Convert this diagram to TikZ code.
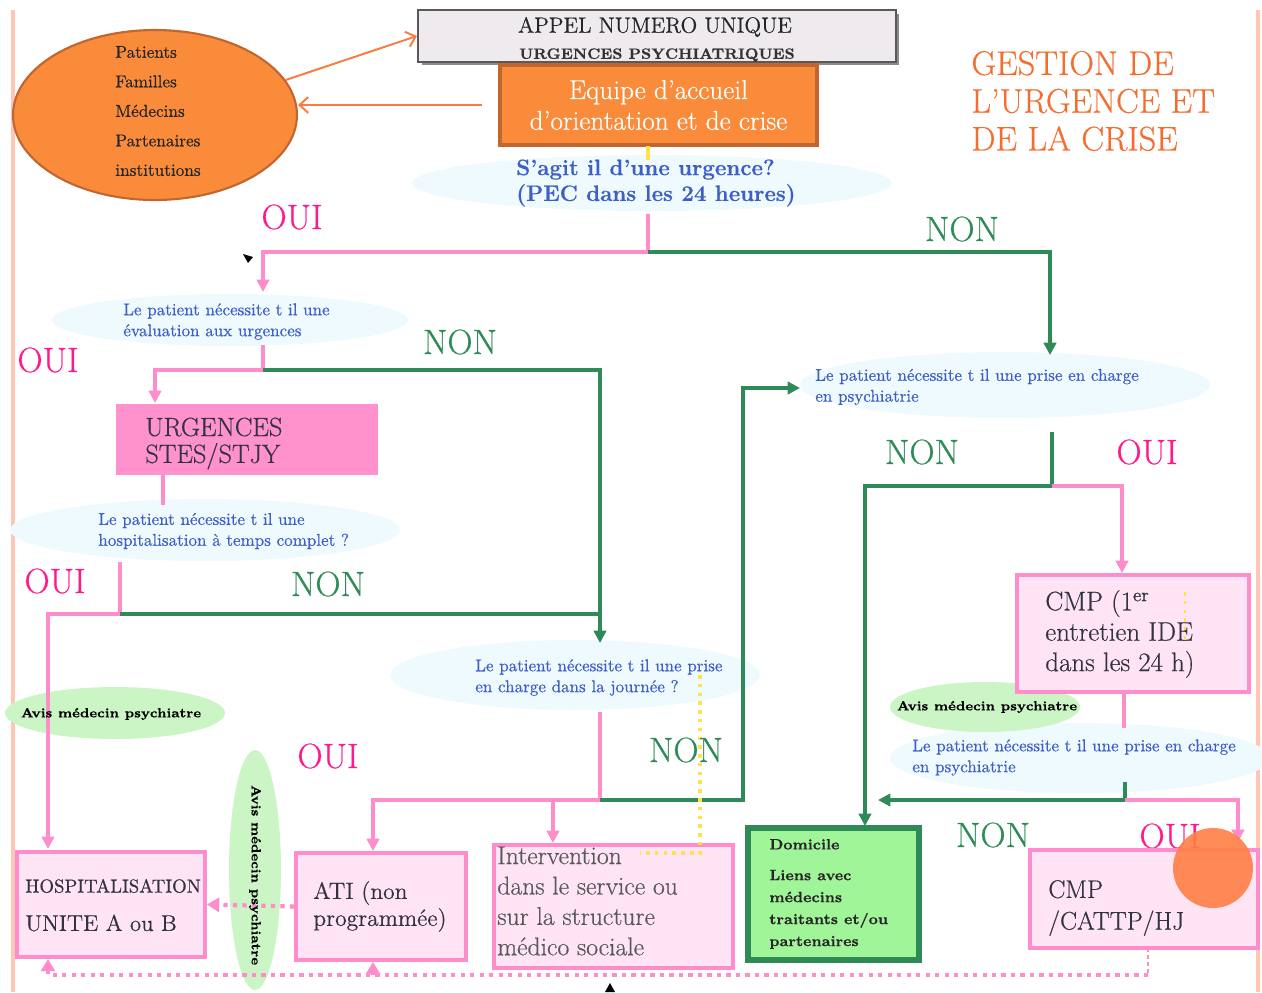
\documentclass[tikz,border=0pt]{standalone}
\usepackage{fontspec}
\setmainfont{Latin Modern Roman}[FakeBold=0.5]
\usetikzlibrary{arrows.meta,shapes.geometric}
\definecolor{pinkL}{HTML}{FF8CCB}
\definecolor{greenL}{HTML}{2E8B57}
\definecolor{ouiC}{HTML}{FF1A8C}
\definecolor{nonC}{HTML}{2E8B57}
\definecolor{blueT}{HTML}{3E5EC8}
\definecolor{cyanF}{HTML}{EEFAFD}
\definecolor{avisF}{HTML}{CCF5C6}
\definecolor{boxF}{HTML}{FFE4F5}
\definecolor{boxD}{HTML}{FF8CCB}
\definecolor{urgF}{HTML}{FF91CD}
\definecolor{orangeF}{HTML}{F98B3B}
\definecolor{orangeD}{HTML}{C0662E}
\definecolor{orangeA}{HTML}{FA7A40}
\definecolor{borderC}{HTML}{FFC6B6}
\definecolor{domF}{HTML}{A1F599}
\definecolor{titleC}{HTML}{F36D2F}
\definecolor{grayF}{HTML}{EEEAEE}
\definecolor{txtC}{HTML}{33333F}
\definecolor{yelC}{HTML}{FFE24A}
\definecolor{circC}{HTML}{FF7F45}
\newcommand\myfs[2]{\fontsize{#1pt}{#2pt}\selectfont}
\begin{document}
\begin{tikzpicture}[x=0.02cm,y=-0.02cm,
  pk/.style={draw=pinkL,line width=1.8pt},
  gr/.style={draw=greenL,line width=2.3pt},
  arr/.style={-{Triangle[length=7pt,width=7pt]}},
  oarr/.style={draw=orangeA,line width=1.1pt,-{Straight Barb[length=5pt,width=9pt]}},
  qbg/.style={ellipse,fill=cyanF,draw=none,inner sep=0},
  avisbg/.style={ellipse,fill=avisF,draw=none,inner sep=0},
  box/.style={rectangle,fill=boxF,draw=boxD,line width=2.2pt,inner sep=0},
  lbl/.style={inner sep=0,anchor=west,align=left,text=txtC},
  qt/.style={lbl,text=blueT,font=\myfs{9.7}{11.9}},
  avt/.style={inner sep=0,text=black,font=\bfseries\myfs{7.5}{9}},
  oui/.style={text=ouiC,font=\myfs{20}{24},inner sep=0},
  non/.style={text=nonC,font=\myfs{20}{24},inner sep=0},
  pdot/.style={draw=pinkL,line width=2.4pt,dash pattern=on 2.4pt off 3pt},
  ydot/.style={draw=yelC,line width=2pt,dash pattern=on 2pt off 3pt}
]
\useasboundingbox (0,0) rectangle (1262,992);
% page borders
\draw[draw=borderC,line width=2pt] (13,10) -- (13,992);
\draw[draw=borderC,line width=2pt] (1258,10) -- (1258,992);

% background ellipses
\node[ellipse,fill=orangeF,draw=orangeD,line width=1.2pt,minimum width=5.68cm,minimum height=3.4cm,inner sep=0] (ell) at (155,115) {};
\node[qbg,minimum width=9.6cm,minimum height=1.12cm] (q1bg) at (652,183) {};
\node[qbg,minimum width=7.12cm,minimum height=1.04cm] (q2bg) at (230,320) {};
\node[qbg,minimum width=7.8cm,minimum height=1.24cm] (q3bg) at (205,530) {};
\node[qbg,minimum width=7.4cm,minimum height=1.4cm] (q4bg) at (575,675) {};
\node[qbg,minimum width=8.2cm,minimum height=1.32cm] (q5bg) at (1005,385) {};
\node[qbg,minimum width=7.6cm,minimum height=1.4cm] (q6bg) at (1080,758) {};
\node[avisbg,minimum width=4.4cm,minimum height=1.04cm] (avis1) at (115,713) {};
\node[avisbg,minimum width=3.8cm,minimum height=1.0cm] (avis2) at (985,707) {};
\node[avisbg,minimum width=1.04cm,minimum height=4.8cm] (avis3) at (255,870) {};

% boxes
\fill[black!45] (422,14) rectangle (899,65);
\node[rectangle,fill=grayF,draw=black!65,line width=1.2pt,minimum width=9.56cm,minimum height=1.04cm,inner sep=0] (appel) at (657,36) {};
\node[inner sep=0,font=\myfs{12.5}{15},text=black!85] (appelT1) at (655,27) {APPEL NUMERO UNIQUE};
\node[inner sep=0,font=\bfseries\myfs{8.5}{10},text=black!80] (appelT2) at (657,55) {URGENCES PSYCHIATRIQUES};
\node[rectangle,fill=orangeF,draw=orangeD,line width=2pt,minimum width=6.34cm,minimum height=1.6cm,inner sep=0,align=center,text=white,font=\myfs{15.5}{17.5}] (equipe) at (658.5,105) {Equipe d’accueil\\d’orientation et de crise};
\node[rectangle,fill=urgF,draw=none,minimum width=5.24cm,minimum height=1.42cm,inner sep=0] (urg) at (247,439.5) {};
\node[box,minimum width=4.64cm,minimum height=2.34cm] (cmp1) at (1133,633.5) {};
\node[rectangle,fill=domF,draw=greenL,line width=3.2pt,minimum width=3.42cm,minimum height=2.64cm,inner sep=0] (dom) at (833.5,894) {};
\node[box,minimum width=4.78cm,minimum height=2.46cm] (inter) at (613.5,906.5) {};
\node[box,minimum width=3.4cm,minimum height=2.14cm] (ati) at (381,906.5) {};
\node[box,minimum width=3.76cm,minimum height=2.1cm] (hosp) at (111,904.5) {};

% coordinates
\coordinate (s1) at (648,214);
\coordinate (j1) at (648,252);
\coordinate (a2) at (263,292);
\coordinate (a5) at (1050,355);
\coordinate (s2) at (263,345);
\coordinate (j2) at (263,370);
\coordinate (a3) at (155,403);
\coordinate (a4) at (600,643);
\coordinate (s3) at (163,475);
\coordinate (e3) at (163,505);
\coordinate (s4) at (120,562);
\coordinate (j4) at (120,614);
\coordinate (ahosp) at (48,849);
\coordinate (s5) at (600,712);
\coordinate (j5) at (600,800);
\coordinate (aati) at (373,851);
\coordinate (aint) at (553,843);
\coordinate (k1) at (743,800);
\coordinate (aq5) at (800,388);
\coordinate (s6) at (1052,432);
\coordinate (j6) at (1052,486);
\coordinate (adom) at (865,826);
\coordinate (acmp1) at (1122,573);
\coordinate (s7) at (1124,692);
\coordinate (e7) at (1124,728);
\coordinate (s8) at (1125,782);
\coordinate (j8) at (1125,800);
\coordinate (adomr) at (878,800);
\coordinate (acmp2) at (1238,842);
\coordinate (y1) at (700,675);
\coordinate (y2) at (700,853);
\coordinate (y3) at (640,853);
\coordinate (b1) at (1148,948);
\coordinate (b2) at (1148,975);
\coordinate (b3) at (48,975);
\coordinate (b4) at (373,975);

% orange arrows
\draw[oarr] (ell.15) -- (appel.west);
\draw[oarr,shorten <=9pt] (equipe.west) -- (equipe.west -| ell.east);
\draw[draw=yelC,line width=2pt] (648,146) -- (648,160);

% connectors
\draw[pk] (s1) -- (j1);
\draw[pk,arr] (j1) -| (a2);
\draw[gr,arr] (j1) -| (a5);
\draw[pk] (s2) -- (j2);
\draw[pk,arr] (j2) -| (a3);
\draw[gr,arr] (j2) -| (a4);
\draw[pk,line width=2.8pt] (s3) -- (e3);
\draw[pk] (s4) -- (j4);
\draw[pk,arr] (j4) -| (ahosp);
\draw[gr] (j4) -- (j4 -| a4);
\draw[pk] (s5) -- (j5);
\draw[pk,arr] (j5) -| (aati);
\draw[pk,arr] (j5 -| aint) -- (aint);
\draw[gr,arr] (j5) -- (k1) |- (aq5);
\draw[gr] (s6) -- (j6);
\draw[gr,arr] (j6) -| (adom);
\draw[pk,arr] (j6) -| (acmp1);
\draw[pk] (s7) -- (e7);
\draw[gr] (s8) -- (j8);
\draw[gr,arr] (j8) -- (adomr);
\draw[pk,arr] (j8) -| (acmp2);
\draw[ydot] (y1) -- (y2) -- (y3);
\draw[ydot,line width=1.2pt] (1185,592) -- (1185,640);
\draw[pdot,-{Triangle[length=7pt,width=8pt]}] (ati.west) -- (hosp.east);
\draw[draw=pinkL,line width=1pt,dash pattern=on 2pt off 2pt] (b1) -- (b2);
\draw[pdot,-{Triangle[length=7pt,width=8pt]}] (b2) -- (b3) -- (hosp.south -| b3);
\draw[pdot,-{Triangle[length=7pt,width=8pt]}] (b4) -- (ati.south -| b4);
\fill[black] (243,254) -- (253,257) -- (248,263) -- cycle;
\fill[black] (605,992) -- (610,983) -- (615,992) -- cycle;

% texts
\node[lbl,font=\myfs{9.8}{16.8},text=black!85] (ellT) at (115,111) {Patients\\Familles\\Médecins\\Partenaires\\institutions};
\node[lbl,text=blueT,font=\bfseries\myfs{12.7}{14.7}] (q1) at (516,183) {S’agit il d’une urgence?\\(PEC dans les 24 heures)};
\node[qt] (q2) at (123,321.5) {Le patient nécessite t il une\\évaluation aux urgences};
\node[qt] (q3) at (98,531) {Le patient nécessite t il une\\hospitalisation à temps complet ?};
\node[qt] (q4) at (475,677.5) {Le patient nécessite t il une prise\\en charge dans la journée ?};
\node[qt] (q5) at (815,387) {Le patient nécessite t il une prise en charge\\en psychiatrie};
\node[qt] (q6) at (912,757.5) {Le patient nécessite t il une prise en charge\\en psychiatrie};
\node[lbl,font=\myfs{19.5}{21.5},text=titleC] (title) at (971,101) {GESTION DE\\L’URGENCE ET\\DE LA CRISE};
\node[lbl,font=\myfs{15}{15.3}] (urgT) at (145,443.5) {URGENCES\\STES/STJY};
\node[lbl,font=\myfs{15.3}{17.3}] (cmp1T) at (1045,634) {CMP (1\textsuperscript{er}\\entretien IDE\\dans les 24 h)};
\node[lbl,font=\bfseries\myfs{8.5}{12.5},text=black!85] (domT) at (769,894) {Domicile\\[5pt]Liens avec\\médecins\\traitants et/ou\\partenaires};
\node[lbl,font=\myfs{14.6}{17.3},text=black!65] (interT) at (497,901) {Intervention\\dans le service ou\\sur la structure\\médico sociale};
\node[lbl,font=\myfs{13.4}{15.3}] (atiT) at (313,906.5) {ATI (non\\programmée)};
\node[lbl,font=\myfs{10.7}{11}] (hospT1) at (25,886) {HOSPITALISATION};
\node[lbl,font=\myfs{13}{17}] (hospT2) at (25,923) {UNITE A ou B};
\node[avt] (avis1T) at (111,714) {Avis médecin psychiatre};
\node[avt] (avis2T) at (987,707) {Avis médecin psychiatre};
\node[avt,rotate=-90] (avis3T) at (255,875) {Avis médecin psychiatre};

% OUI / NON labels
\node[oui] (oui1) at (292,217) {OUI};
\node[non] (non1) at (962,229) {NON};
\node[oui] (oui2) at (48,360) {OUI};
\node[non] (non2) at (460,342) {NON};
\node[oui] (oui3) at (55,581) {OUI};
\node[non] (non3) at (328,584) {NON};
\node[oui] (oui4) at (328,756) {OUI};
\node[non] (non4) at (686,750) {NON};
\node[non] (non5) at (922,452) {NON};
\node[oui] (oui5) at (1147,452) {OUI};
\node[non] (non6) at (993,835) {NON};
\node[oui] (oui6) at (1170,836) {OUI};

% last box and circle
\node[box,minimum width=4.56cm,minimum height=1.96cm] (cmp2) at (1144,899) {};
\node[lbl,font=\myfs{14.5}{18}] (cmp2T) at (1048,908) {CMP\\/CATTP/HJ};
\node[circle,fill=circC,fill opacity=0.9,draw=none,minimum size=1.6cm,inner sep=0] (circ) at (1213,868) {};
\end{tikzpicture}
\end{document}
